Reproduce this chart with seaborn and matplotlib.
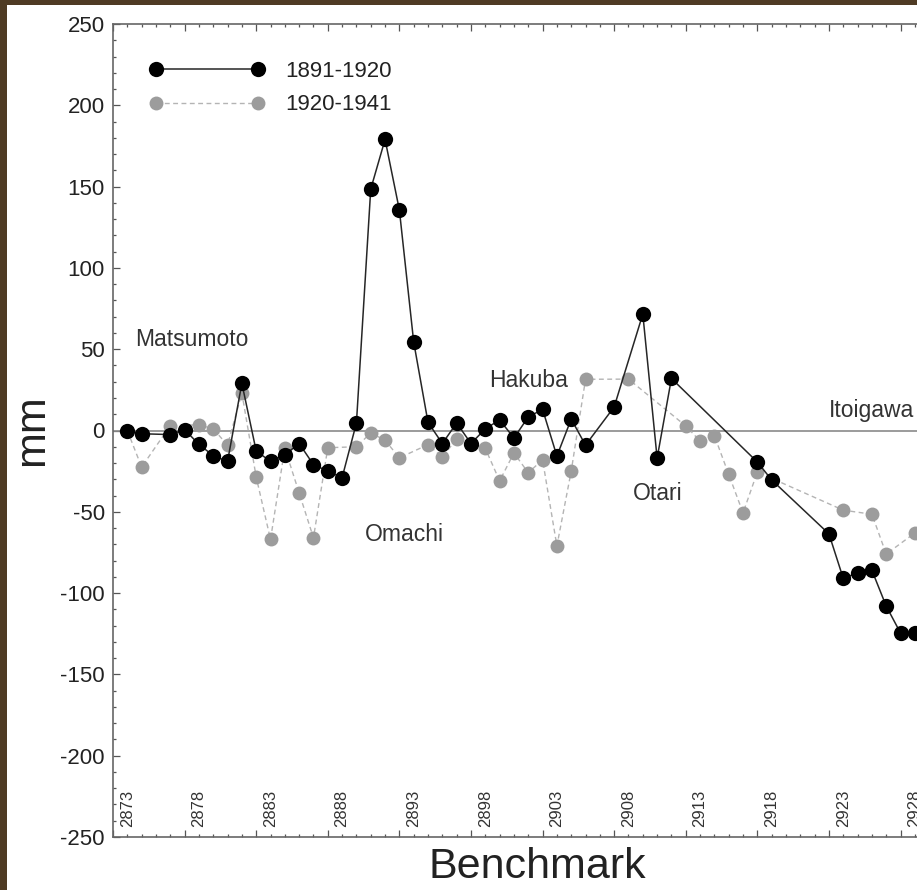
import numpy as np
import pandas as pd
import matplotlib
matplotlib.use("Agg")
import matplotlib.pyplot as plt
from matplotlib.ticker import FixedLocator
from matplotlib.patches import Rectangle
import seaborn as sns

# Leveling changes along the Matsumoto - Itoigawa route (mm)
bench_1891 = [2873, 2874, 2876, 2877, 2878, 2879, 2880, 2881, 2882, 2883,
              2884, 2885, 2886, 2887, 2888, 2889, 2890, 2891, 2892, 2893,
              2894, 2895, 2896, 2897, 2898, 2899, 2900, 2901, 2902, 2903,
              2904, 2905, 2907, 2909, 2910, 2911, 2917, 2918, 2922, 2923,
              2924, 2925, 2926, 2927, 2928]
mm_1891 = [0, -2, -2.5, 0.5, -8.5, -15.5, -19, 29, -12.6, -19,
           -15, -8, -21, -25, -29, 4.6, 148.5, 179, 135.6, 54.4,
           5, -8, 4.6, -8, 1, 6.5, -4.6, 8.3, 13, -15.7,
           7, -9, 14.5, 71.6, -17, 32, -19.4, -30.4, -63.6, -91,
           -87.5, -86, -108, -124.6, -124.6]

bench_1920 = [2873, 2874, 2876, 2878, 2879, 2880, 2881, 2882, 2883, 2884,
              2885, 2886, 2887, 2889, 2890, 2891, 2892, 2894, 2895, 2896,
              2898, 2899, 2900, 2901, 2902, 2903, 2904, 2905, 2908, 2912,
              2913, 2914, 2915, 2916, 2917, 2923, 2925, 2926, 2928]
mm_1920 = [0, -22.5, 3, 3.5, 1, -9, 23, -28.6, -67, -10.8,
           -38.4, -66, -10.6, -10, -1.5, -6, -16.8, -8.7, -16.5, -5,
           -11, -31, -13.8, -26, -18, -71, -25, 31.5, 31.6, 2.8,
           -6.5, -3.2, -27, -50.7, -25.5, -49, -51.5, -76, -63]

series_labels = ["1891-1920", "1920-1941"]

place_names = ["Matsumoto", "Omachi", "Hakuba", "Otari", "Itoigawa"]
place_x = [2873.55, 2889.6, 2898.3, 2908.3, 2922.0]
place_y = [56, -64, 31, -39, 12]

bench_labels = list(range(2873, 2929, 5))
y_ticks = list(range(-250, 251, 50))

sns.set_style("ticks")
plt.rcParams["font.family"] = ["Liberation Sans", "DejaVu Sans"]
plt.rcParams["axes.unicode_minus"] = False

W, H = 917, 890
fig = plt.figure(figsize=(W / 100, H / 100), dpi=100)
fig.patch.set_facecolor("white")

# dark frame along the left and top edges
fig.patches.append(Rectangle((0, 0), 7 / W, 1, transform=fig.transFigure,
                             facecolor="#4f3b24", edgecolor="none", zorder=10))
fig.patches.append(Rectangle((0, 1 - 5 / H), 1, 5 / H, transform=fig.transFigure,
                             facecolor="#4f3b24", edgecolor="none", zorder=10))

AX_W = 0.99
ax = fig.add_axes([113 / W, 53 / H, AX_W, 813 / H])

df_a = pd.DataFrame({"bench": bench_1891, "mm": mm_1891})
df_b = pd.DataFrame({"bench": bench_1920, "mm": mm_1920})

ax.axhline(0, color="#8a8a8a", lw=1.2, zorder=1)

sns.lineplot(data=df_b, x="bench", y="mm", ax=ax, sort=False, estimator=None,
             color="#b4b4b4", lw=1.0, linestyle=(0, (3.5, 2.5)),
             marker="o", markersize=10, markerfacecolor="#9c9c9c",
             markeredgewidth=0, label=series_labels[1], zorder=2)
sns.lineplot(data=df_a, x="bench", y="mm", ax=ax, sort=False, estimator=None,
             color="#262626", lw=1.1, marker="o", markersize=11,
             markerfacecolor="black", markeredgewidth=0,
             label=series_labels[0], zorder=3)

ax.set_xlim(2872, 2935.4)
ax.set_ylim(-250, 250)

ax.xaxis.set_major_locator(FixedLocator(np.arange(2872, 2936, 5)))
ax.xaxis.set_minor_locator(FixedLocator(np.arange(2872, 2936, 1)))
ax.set_xticklabels([])
ax.yaxis.set_major_locator(FixedLocator(y_ticks))
ax.yaxis.set_minor_locator(FixedLocator(np.arange(-250, 251, 10)))
ax.set_yticklabels([str(v) for v in y_ticks])

ax.tick_params(which="both", direction="in", top=True, right=True,
               color="#555555", width=0.9)
ax.tick_params(which="major", length=5)
ax.tick_params(which="minor", length=2.5)
ax.tick_params(axis="y", labelsize=16, labelcolor="#222222", pad=6)

for s in ax.spines.values():
    s.set_color("#666666")
    s.set_linewidth(1.2)

# benchmark numbers written inside the frame along the bottom
for b in bench_labels:
    ax.text(b, 0.012, str(b), transform=ax.get_xaxis_transform(),
            rotation=90, ha="center", va="bottom", fontsize=12,
            color="#333333")

for name, px, py in zip(place_names, place_x, place_y):
    ax.text(px, py, name, ha="left", va="center", fontsize=16.5,
            color="#333333")

ax.set_xlabel("Benchmark", fontsize=31, color="#222222")
ax.set_ylabel("mm", fontsize=31, color="#222222")
ax.xaxis.set_label_coords((537 - 113) / (AX_W * W), -0.012)
ax.yaxis.set_label_coords(-(113 - 52) / (AX_W * W), 0.5)

handles, labels = ax.get_legend_handles_labels()
order = [labels.index(series_labels[0]), labels.index(series_labels[1])]
leg = ax.legend([handles[i] for i in order], [labels[i] for i in order],
                loc="upper left", bbox_to_anchor=(0.018, 0.979),
                frameon=False, numpoints=2, handlelength=5.2,
                handletextpad=0.9, fontsize=16, labelspacing=0.55)
for t in leg.get_texts():
    t.set_color("#222222")

fig.savefig("out.png", dpi=100, facecolor="white")
